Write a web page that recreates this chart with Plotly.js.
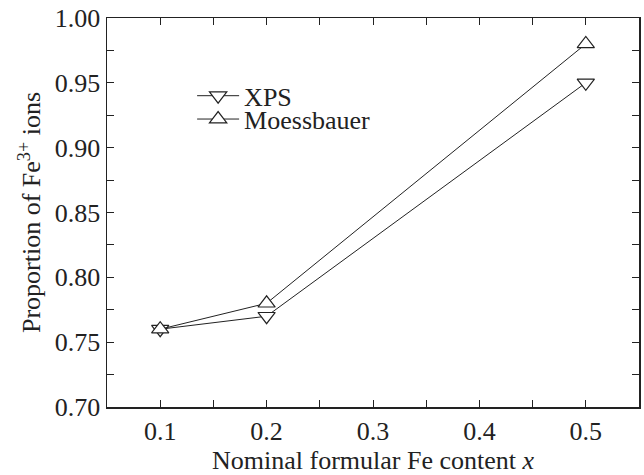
<!DOCTYPE html>
<html>
<head>
<meta charset="utf-8">
<script src="https://cdn.plot.ly/plotly-3.0.1.min.js"></script>
<style>html,body{margin:0;padding:0;background:#fff;}#chart{width:644px;height:475px;}</style>
</head>
<body>
<div id="chart"></div>
<script>
var xValues = [0.1, 0.2, 0.5];
var xpsValues = [0.76, 0.77, 0.95];
var moessValues = [0.76, 0.78, 0.98];
var seriesNames = ["XPS", "Moessbauer"];
var xTickVals = [0.1, 0.2, 0.3, 0.4, 0.5];
var xTickText = ["0.1", "0.2", "0.3", "0.4", "0.5"];
var yTickVals = [0.70, 0.75, 0.80, 0.85, 0.90, 0.95, 1.00];
var yTickText = ["0.70", "0.75", "0.80", "0.85", "0.90", "0.95", "1.00"];

var font = {family: "Liberation Serif", size: 26, color: "#222"};

var traces = [
  {
    x: xValues, y: xpsValues, name: seriesNames[0], type: "scatter", mode: "lines+markers",
    legend: "legend",
    line: {color: "#222", width: 1},
    marker: {symbol: "triangle-down", size: 15, color: "#fff", line: {color: "#222", width: 1.2}}
  },
  {
    x: xValues, y: moessValues, name: seriesNames[1], type: "scatter", mode: "lines+markers",
    legend: "legend2",
    line: {color: "#222", width: 1},
    marker: {symbol: "triangle-up", size: 15, color: "#fff", line: {color: "#222", width: 1.2}}
  }
];

var axisCommon = {
  showline: true, linecolor: "#222", linewidth: 1.5, mirror: "ticks",
  ticks: "inside", ticklen: 7, tickwidth: 1, tickcolor: "#222",
  showgrid: false, zeroline: false, tickfont: font
};

var legendCommon = {xanchor: "left", yanchor: "middle", bgcolor: "rgba(0,0,0,0)", font: font, itemwidth: 42};

var layout = {
  width: 644, height: 475,
  margin: {l: 107, r: 5, t: 18, b: 68},
  paper_bgcolor: "#fff", plot_bgcolor: "#fff",
  font: font,
  showlegend: true,
  legend: Object.assign({x: 0.16, y: 0.80}, legendCommon),
  legend2: Object.assign({x: 0.16, y: 0.74}, legendCommon),
  xaxis: Object.assign({}, axisCommon, {
    range: [0.05, 0.55], tickvals: xTickVals, ticktext: xTickText,
    minor: {tickvals: [0.15, 0.25, 0.35, 0.45], ticks: "inside", ticklen: 7, tickcolor: "#222"},
    title: {text: "Nominal formular Fe content <i>x</i>", font: font, standoff: 4}
  }),
  yaxis: Object.assign({}, axisCommon, {
    range: [0.70, 1.00], tickvals: yTickVals, ticktext: yTickText,
    minor: {tickvals: [0.725, 0.775, 0.825, 0.875, 0.925, 0.975], ticks: "inside", ticklen: 7, tickcolor: "#222"},
    title: {text: "Proportion of Fe<sup>3+</sup> ions", font: font, standoff: 6}
  })
};

Plotly.newPlot("chart", traces, layout, {displayModeBar: false, staticPlot: true});
</script>
</body>
</html>
